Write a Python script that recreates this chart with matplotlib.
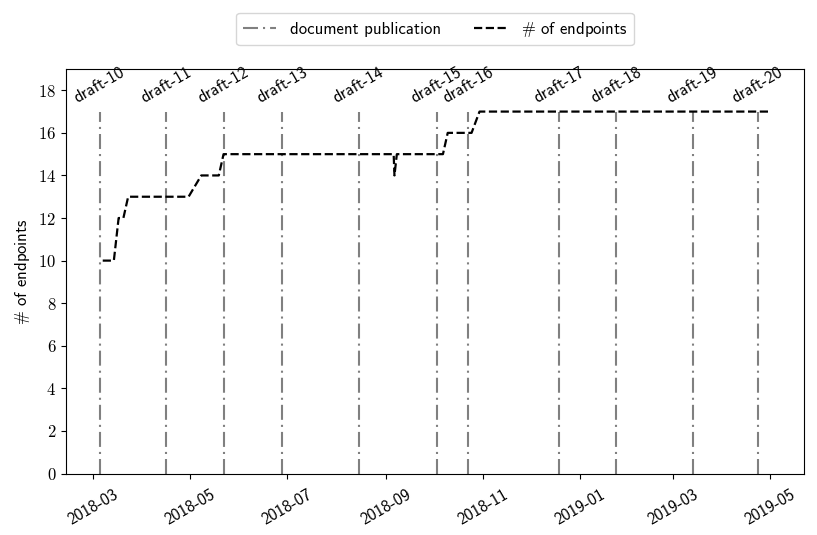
import numpy as np
import pandas as pd
import matplotlib
matplotlib.use('Agg')
import matplotlib.pyplot as plt
import matplotlib.dates as mdates
from matplotlib.lines import Line2D

plt.rcParams['font.family'] = ['cmss10', 'DejaVu Sans']
plt.rcParams['mathtext.fontset'] = 'cm'
plt.rcParams['font.size'] = 12
plt.rcParams['axes.unicode_minus'] = False

# draft publication dates
drafts = ['draft-10', 'draft-11', 'draft-12', 'draft-13', 'draft-14', 'draft-15',
          'draft-16', 'draft-17', 'draft-18', 'draft-19', 'draft-20']
draft_dates = ['2018-03-05', '2018-04-16', '2018-05-22', '2018-06-28', '2018-08-15',
               '2018-10-03', '2018-10-23', '2018-12-19', '2019-01-24', '2019-03-13',
               '2019-04-23']

# number of endpoints over time
ep_dates = ['2018-03-07', '2018-03-14', '2018-03-17', '2018-03-20', '2018-03-23',
            '2018-04-30', '2018-05-08', '2018-05-19', '2018-05-22', '2018-09-06',
            '2018-09-06 12:00', '2018-09-08', '2018-10-07', '2018-10-10',
            '2018-10-25', '2018-10-30', '2019-05-01']
ep_counts = [10, 10, 12, 12, 13, 13, 14, 14, 15, 15, 14, 15, 15, 16, 16, 17, 17]

draft_dates = pd.to_datetime(draft_dates)
ep_dates = pd.to_datetime(ep_dates, format='mixed')

fig = plt.figure(figsize=(8.17, 5.35), dpi=100)
ax = fig.add_axes([66 / 817, 1 - 473.5 / 535, 738 / 817, 404.5 / 535])

pub_style = (0, (7.2, 2.4, 1, 2.4))
ax.vlines(draft_dates, 0, 17, colors='gray', linestyles=[pub_style], lw=1.5)
for name, d in zip(drafts, draft_dates):
    ax.text(d, 17.3, name, rotation=30, ha='center', va='bottom')

ax.plot(ep_dates, ep_counts, '--', color='black', lw=1.6)

ax.set_ylim(0, 19)
ax.set_yticks(np.arange(0, 19, 2))
ax.set_yticklabels(['$%d$' % v for v in np.arange(0, 19, 2)])
ax.set_ylabel(r'$\#$ of endpoints')

ax.xaxis.set_major_locator(mdates.MonthLocator(bymonth=[1, 3, 5, 7, 9, 11]))
ax.xaxis.set_major_formatter(mdates.DateFormatter('%Y-%m'))
ax.tick_params(axis='x', pad=6)
plt.setp(ax.get_xticklabels(), rotation=30, ha='center')

handles = [Line2D([], [], color='gray', ls=pub_style, lw=1.5),
           Line2D([], [], color='black', ls='--', lw=1.6)]
ax.legend(handles, ['document publication', r'$\#$ of endpoints'],
          loc='lower center', bbox_to_anchor=(0.5, 1.038), ncol=2,
          columnspacing=2.0)

fig.savefig('out.png', dpi=100)
